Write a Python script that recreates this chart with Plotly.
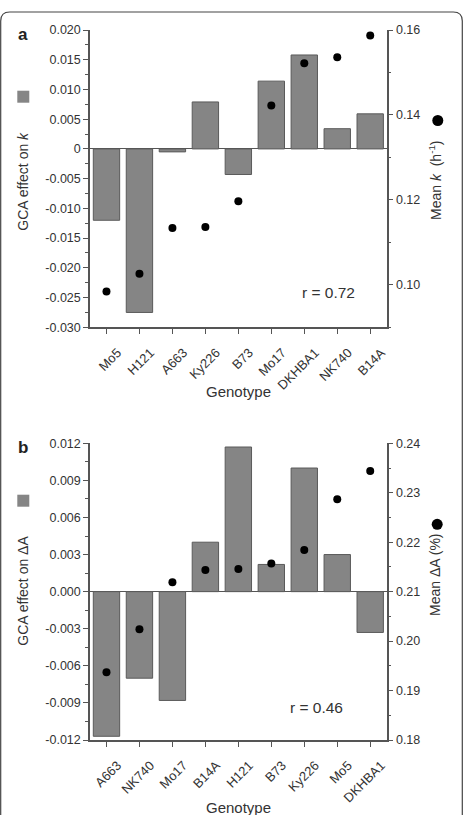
import plotly.graph_objects as go

W, H = 463, 815
def px(x): return x / W
def py(y): return 1 - y / H

# ---------------- data ----------------
geno_a = ["Mo5", "H121", "A663", "Ky226", "B73", "Mo17", "DKHBA1", "NK740", "B14A"]
gca_a = [-0.0120, -0.0275, -0.0005, 0.0079, -0.0043, 0.0114, 0.0158, 0.0034, 0.0059]
mean_a = [0.0984, 0.1026, 0.1134, 0.1136, 0.1197, 0.1422, 0.1522, 0.1536, 0.1587]

geno_b = ["A663", "NK740", "Mo17", "B14A", "H121", "B73", "Ky226", "Mo5", "DKHBA1"]
gca_b = [-0.0117, -0.0070, -0.0088, 0.0040, 0.0117, 0.0022, 0.0100, 0.0030, -0.0033]
mean_b = [0.1937, 0.2024, 0.2119, 0.2144, 0.2146, 0.2157, 0.2184, 0.2287, 0.2344]

ya_left_vals = [0.020, 0.015, 0.010, 0.005, 0.0, -0.005, -0.010, -0.015, -0.020, -0.025, -0.030]
ya_left_text = ["0.020", "0.015", "0.010", "0.005", "0", "-0.005", "-0.010", "-0.015", "-0.020", "-0.025", "-0.030"]
ya_right_vals = [0.16, 0.14, 0.12, 0.10]
ya_right_text = ["0.16", "0.14", "0.12", "0.10"]

yb_left_vals = [0.012, 0.009, 0.006, 0.003, 0.0, -0.003, -0.006, -0.009, -0.012]
yb_left_text = ["0.012", "0.009", "0.006", "0.003", "0.000", "-0.003", "-0.006", "-0.009", "-0.012"]
yb_right_vals = [0.24, 0.23, 0.22, 0.21, 0.20, 0.19, 0.18]
yb_right_text = ["0.24", "0.23", "0.22", "0.21", "0.20", "0.19", "0.18"]

r_a = "r = 0.72"
r_b = "r = 0.46"

# ---------------- style ----------------
FONT = "Liberation Sans, Arial, sans-serif"
TXT = "#333333"
AX = "#555555"
BAR = "#858585"
BAR_EDGE = "#5a5a5a"

fig = go.Figure()

fig.add_trace(go.Bar(x=geno_a, y=gca_a, xaxis="x", yaxis="y",
                     marker=dict(color=BAR, line=dict(color=BAR_EDGE, width=1)),
                     showlegend=False))
fig.add_trace(go.Scatter(x=geno_a, y=mean_a, xaxis="x", yaxis="y2", mode="markers",
                         marker=dict(color="black", size=8), showlegend=False))
fig.add_trace(go.Bar(x=geno_b, y=gca_b, xaxis="x2", yaxis="y3",
                     marker=dict(color=BAR, line=dict(color=BAR_EDGE, width=1)),
                     showlegend=False))
fig.add_trace(go.Scatter(x=geno_b, y=mean_b, xaxis="x2", yaxis="y4", mode="markers",
                         marker=dict(color="black", size=8), showlegend=False))

ytickfont = dict(family=FONT, size=12.5, color=TXT)
xtickfont = dict(family=FONT, size=13, color=TXT)
xdom = [px(90), px(386.7)]

def xax(anchor):
    return dict(domain=xdom, anchor=anchor, type="category", range=[-0.5, 8.5],
                automargin=False,
                tickangle=-45, ticks="outside", ticklen=5, tickcolor=AX, tickwidth=1.2,
                ticklabelshift=11, ticklabelstandoff=6,
                showline=True, linecolor=AX, linewidth=1.5, showgrid=False, zeroline=False,
                tickfont=xtickfont)

def yleft(dom, rng, vals, text, minor_dt, anchor):
    return dict(domain=dom, anchor=anchor, range=rng, tickmode="array", tickvals=vals, ticktext=text,
                automargin=False,
                ticks="outside", ticklen=5, tickcolor=AX, tickwidth=1.2,
                minor=dict(dtick=minor_dt, tick0=0, ticks="outside", ticklen=3, tickcolor=AX, showgrid=False),
                showline=True, linecolor=AX, linewidth=1.5, showgrid=False,
                zeroline=True, zerolinecolor=AX, zerolinewidth=1.3,
                tickfont=ytickfont)

def yright(over, rng, vals, text, minor_dt, anchor):
    return dict(overlaying=over, side="right", anchor=anchor, range=rng, tickmode="array",
                tickvals=vals, ticktext=text, automargin=False,
                ticks="outside", ticklen=5, tickcolor=AX, tickwidth=1.2,
                minor=dict(dtick=minor_dt, tick0=0, ticks="outside", ticklen=3, tickcolor=AX, showgrid=False),
                showline=True, linecolor=AX, linewidth=1.5, showgrid=False, zeroline=False,
                tickfont=ytickfont)

fig.update_layout(
    template="none",
    width=W, height=H, margin=dict(l=0, r=0, t=0, b=0, pad=0, autoexpand=False),
    paper_bgcolor="white", plot_bgcolor="white",
    bargap=0.2, showlegend=False,
    font=dict(family=FONT, color=TXT),
    xaxis=xax("y"),
    xaxis2=xax("y3"),
    yaxis=yleft([py(327.3), py(30)], [-0.030, 0.020], ya_left_vals, ya_left_text, 0.0025, "x"),
    yaxis2=yright("y", [0.09, 0.16], ya_right_vals, ya_right_text, 0.01, "x"),
    yaxis3=yleft([py(740), py(443.3)], [-0.012, 0.012], yb_left_vals, yb_left_text, 0.0015, "x2"),
    yaxis4=yright("y3", [0.18, 0.24], yb_right_vals, yb_right_text, 0.005, "x2"),
)

def ann(text, x, y, size=14, angle=0, bold=False):
    fig.add_annotation(text=("<b>%s</b>" % text) if bold else text, x=px(x), y=py(y),
                       xref="paper", yref="paper", showarrow=False, textangle=angle,
                       xanchor="center", yanchor="middle",
                       font=dict(family=FONT, size=size, color="#222222" if bold else TXT))

ann("a", 23, 34.5, size=17, bold=True)
ann("b", 23, 447, size=17, bold=True)
ann("GCA effect on <i>k</i>", 22.7, 181, angle=-90)
ann("Mean <i>k</i>  (h<sup>-1</sup>)", 435, 180, angle=-90)
ann("GCA effect on ΔA", 22.7, 591, angle=-90)
ann("Mean ΔA (%)", 435, 575, angle=-90)
ann("Genotype", 238, 391, size=15)
ann("Genotype", 238, 807, size=15)
ann(r_a, 328, 292.5, size=15.5)
ann(r_b, 316, 707.5, size=15.5)

# legend glyphs beside axis titles
for cy in (96.7, 500.7):
    fig.add_shape(type="rect", xref="paper", yref="paper",
                  x0=px(17.3), x1=px(29.3), y0=py(cy + 6), y1=py(cy - 6),
                  fillcolor=BAR, line=dict(color=BAR, width=0))
for cx, cy in ((437.8, 120.5), (437.2, 524.3)):
    fig.add_shape(type="circle", xref="paper", yref="paper",
                  x0=px(cx - 5.5), x1=px(cx + 5.5), y0=py(cy + 5.5), y1=py(cy - 5.5),
                  fillcolor="black", line=dict(color="black", width=0))

# rounded page frame
r = 9
path = ("M {x0},{yb} L {x0},{y1} Q {x0},{yt} {x2},{yt} L {x3},{yt} Q {x4},{yt} {x4},{y1} L {x4},{yb}"
        .format(x0=px(0.7), x2=px(0.7 + r), x3=px(462.3 - r), x4=px(462.3),
                yt=py(12), y1=py(12 + r), yb=py(815)))
fig.add_shape(type="path", path=path, xref="paper", yref="paper",
              line=dict(color="#444444", width=1.2))

fig.write_html("out.html")
